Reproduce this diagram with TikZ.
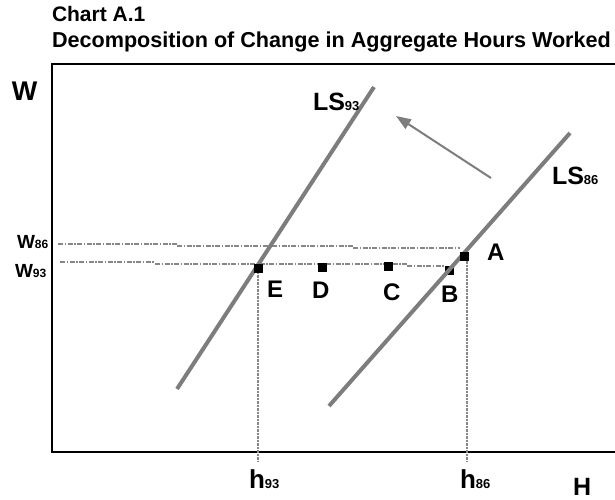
\documentclass[tikz,border=0pt]{standalone}
\usepackage{fontspec}
\setmainfont{Liberation Sans}
\usetikzlibrary{arrows.meta}
\definecolor{lsgray}{RGB}{125,125,125}
\definecolor{dgray}{RGB}{135,135,135}
\newcommand{\fsz}[1]{\fontsize{#1}{#1}\selectfont}
\tikzset{
  lab/.style={inner sep=0pt, outer sep=0pt, anchor=base west, font=\bfseries},
  frameline/.style={line width=2.2pt, black},
  lsline/.style={line width=4pt, lsgray},
  wline/.style={line width=1.5pt, dgray, dash pattern=on 5pt off 1.5pt on 1.5pt off 1.5pt},
  hline/.style={line width=1.5pt, dgray, dash pattern=on 2.5pt off 1pt},
  pt/.style={fill=black, draw=none, minimum size=9pt, inner sep=0pt, rectangle},
  shiftarrow/.style={line width=2pt, lsgray, -{Triangle[length=15pt,width=11pt]}}
}
\begin{document}
\begin{tikzpicture}[x=1pt,y=-1pt]
\useasboundingbox (0,0) rectangle (615,499);
% titles
\node[lab] (t1) at (52,21) {\fsz{21}Chart A.1};
\node[lab] (t2) at (52,47) {\fsz{21.6}Decomposition of Change in Aggregate Hours Worked};
% frame
\coordinate (ftr) at (615,64);
\coordinate (ftl) at (52,64);
\coordinate (fbl) at (52,452);
\coordinate (fbr) at (615,452);
\draw[frameline] (ftr) -- (ftl) -- (fbl) -- (fbr);
% axis labels
\node[lab] (W) at (12,100) {\fsz{27}W};
\node[lab] (H) at (573,495) {\fsz{25}H};
% points
\coordinate (pE) at (258,268);
\coordinate (pD) at (322,267);
\coordinate (pC) at (388,266);
\coordinate (pB) at (449,270);
\coordinate (pA) at (464.5,256.5);
% wage guide lines
\coordinate (w86s) at (58,244);
\coordinate (w86a) at (177,244);
\coordinate (w86b) at (177,246);
\coordinate (w86c) at (353,246);
\coordinate (w86d) at (353,248);
\coordinate (w86e) at (460,248);
\draw[wline] (w86s) -- (w86a);
\draw[wline] (w86b) -- (w86c);
\draw[wline] (w86d) -- (w86e);
\coordinate (w93s) at (60,262);
\coordinate (w93a) at (155,262);
\coordinate (w93b) at (155,264);
\coordinate (w93c) at (407,264);
\coordinate (w93d) at (407,266);
\coordinate (w93e) at (445,266);
\draw[wline] (w93s) -- (w93a);
\draw[wline] (w93b) -- (w93c);
\draw[wline] (w93d) -- (w93e);
% hours guide lines
\coordinate (h93b) at (258,461);
\coordinate (h86t) at (467,261);
\coordinate (h86b) at (467,461);
\draw[hline] (pE) -- (h93b);
\draw[hline] (h86t) -- (h86b);
% point B (under the line)
\node[pt] (B) at (pB) {};
% labour supply lines
\coordinate (ls93a) at (177,389);
\coordinate (ls93b) at (374,87);
\coordinate (ls86a) at (329,406);
\coordinate (ls86b) at (570,133);
\draw[lsline] (ls93a) -- (ls93b);
\draw[lsline] (ls86a) -- (ls86b);
% shift arrow
\coordinate (arT) at (491,178);
\coordinate (arH) at (396,116);
\draw[shiftarrow] (arT) -- (arH);
% other points
\node[pt] (E) at (pE) {};
\node[pt] (D) at (pD) {};
\node[pt] (C) at (pC) {};
\node[pt] (A) at (pA) {};
% point labels
\node[lab] (lA) at (487,260) {\fsz{24}A};
\node[lab] (lB) at (441,302) {\fsz{24}B};
\node[lab] (lC) at (383,300) {\fsz{24}C};
\node[lab] (lD) at (312,298) {\fsz{24}D};
\node[lab] (lE) at (267,297) {\fsz{24}E};
% curve labels
\node[lab] (lLS93) at (313,110) {\fsz{25}LS\fsz{13}93};
\node[lab] (lLS86) at (552,184) {\fsz{25}LS\fsz{13}86};
% wage labels
\node[lab] (lw86) at (17,248) {\fsz{19}W\fsz{12}86};
\node[lab] (lw93) at (15,277) {\fsz{19}W\fsz{12}93};
% hour labels
\node[lab] (lh93) at (249,488) {\fsz{26}h\fsz{13}93};
\node[lab] (lh86) at (460,488) {\fsz{26}h\fsz{13}86};
\end{tikzpicture}
\end{document}
